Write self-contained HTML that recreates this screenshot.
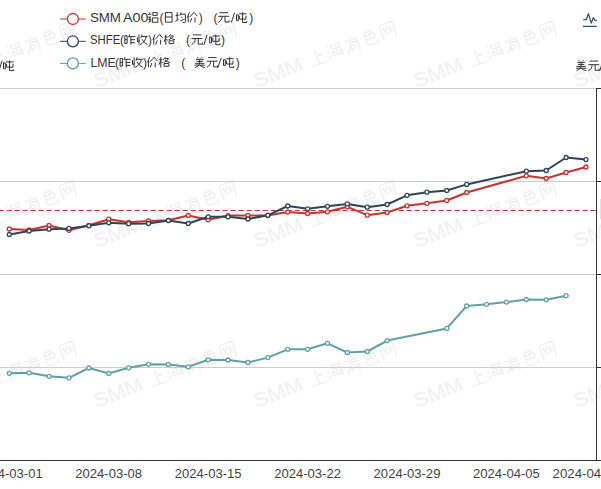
<!DOCTYPE html>
<html><head><meta charset="utf-8"><style>
html,body{margin:0;padding:0;background:#fff;overflow:hidden;}
svg{display:block;font-family:"Liberation Sans",sans-serif;}
</style></head><body>
<svg width="601" height="489" viewBox="0 0 601 489">
<g transform="translate(-63,-72) rotate(-21)"><text x="0" y="0" font-size="20" fill="#f0f0f0" textLength="51" lengthAdjust="spacingAndGlyphs">SMM</text><path d="M48 6V88 M48 44H84 M4 90H96" transform="translate(59,-15.5) scale(0.17)" fill="none" stroke="#efefef" stroke-width="8.24"/><path d="M8 8L18 16 M4 36L14 44 M4 90L18 62 M44 4L32 30 M40 18H94 M38 36H84L82 90 M38 36L34 76H98 M26 58H98 M58 42L64 50 M58 64L64 72" transform="translate(77.8,-15.5) scale(0.17)" fill="none" stroke="#efefef" stroke-width="8.24"/><path d="M10 26H94 M50 4Q40 60 6 96 M34 44V96 M34 44H84V88Q84 96 74 94 M34 60H84 M34 76H84" transform="translate(96.6,-15.5) scale(0.17)" fill="none" stroke="#efefef" stroke-width="8.24"/><path d="M36 4L14 34 M32 16H64L52 34 M22 34H80V58H22Z M50 34V58 M22 58V84Q22 94 36 94H90V80" transform="translate(115.39999999999999,-15.5) scale(0.17)" fill="none" stroke="#efefef" stroke-width="8.24"/><path d="M10 8V96 M10 8H90V86Q90 96 78 94 M24 28L46 72 M46 30L26 72 M54 28L76 72 M76 30L56 72" transform="translate(134.2,-15.5) scale(0.17)" fill="none" stroke="#efefef" stroke-width="8.24"/></g><g transform="translate(97,-72) rotate(-21)"><text x="0" y="0" font-size="20" fill="#f0f0f0" textLength="51" lengthAdjust="spacingAndGlyphs">SMM</text><path d="M48 6V88 M48 44H84 M4 90H96" transform="translate(59,-15.5) scale(0.17)" fill="none" stroke="#efefef" stroke-width="8.24"/><path d="M8 8L18 16 M4 36L14 44 M4 90L18 62 M44 4L32 30 M40 18H94 M38 36H84L82 90 M38 36L34 76H98 M26 58H98 M58 42L64 50 M58 64L64 72" transform="translate(77.8,-15.5) scale(0.17)" fill="none" stroke="#efefef" stroke-width="8.24"/><path d="M10 26H94 M50 4Q40 60 6 96 M34 44V96 M34 44H84V88Q84 96 74 94 M34 60H84 M34 76H84" transform="translate(96.6,-15.5) scale(0.17)" fill="none" stroke="#efefef" stroke-width="8.24"/><path d="M36 4L14 34 M32 16H64L52 34 M22 34H80V58H22Z M50 34V58 M22 58V84Q22 94 36 94H90V80" transform="translate(115.39999999999999,-15.5) scale(0.17)" fill="none" stroke="#efefef" stroke-width="8.24"/><path d="M10 8V96 M10 8H90V86Q90 96 78 94 M24 28L46 72 M46 30L26 72 M54 28L76 72 M76 30L56 72" transform="translate(134.2,-15.5) scale(0.17)" fill="none" stroke="#efefef" stroke-width="8.24"/></g><g transform="translate(257,-72) rotate(-21)"><text x="0" y="0" font-size="20" fill="#f0f0f0" textLength="51" lengthAdjust="spacingAndGlyphs">SMM</text><path d="M48 6V88 M48 44H84 M4 90H96" transform="translate(59,-15.5) scale(0.17)" fill="none" stroke="#efefef" stroke-width="8.24"/><path d="M8 8L18 16 M4 36L14 44 M4 90L18 62 M44 4L32 30 M40 18H94 M38 36H84L82 90 M38 36L34 76H98 M26 58H98 M58 42L64 50 M58 64L64 72" transform="translate(77.8,-15.5) scale(0.17)" fill="none" stroke="#efefef" stroke-width="8.24"/><path d="M10 26H94 M50 4Q40 60 6 96 M34 44V96 M34 44H84V88Q84 96 74 94 M34 60H84 M34 76H84" transform="translate(96.6,-15.5) scale(0.17)" fill="none" stroke="#efefef" stroke-width="8.24"/><path d="M36 4L14 34 M32 16H64L52 34 M22 34H80V58H22Z M50 34V58 M22 58V84Q22 94 36 94H90V80" transform="translate(115.39999999999999,-15.5) scale(0.17)" fill="none" stroke="#efefef" stroke-width="8.24"/><path d="M10 8V96 M10 8H90V86Q90 96 78 94 M24 28L46 72 M46 30L26 72 M54 28L76 72 M76 30L56 72" transform="translate(134.2,-15.5) scale(0.17)" fill="none" stroke="#efefef" stroke-width="8.24"/></g><g transform="translate(417,-72) rotate(-21)"><text x="0" y="0" font-size="20" fill="#f0f0f0" textLength="51" lengthAdjust="spacingAndGlyphs">SMM</text><path d="M48 6V88 M48 44H84 M4 90H96" transform="translate(59,-15.5) scale(0.17)" fill="none" stroke="#efefef" stroke-width="8.24"/><path d="M8 8L18 16 M4 36L14 44 M4 90L18 62 M44 4L32 30 M40 18H94 M38 36H84L82 90 M38 36L34 76H98 M26 58H98 M58 42L64 50 M58 64L64 72" transform="translate(77.8,-15.5) scale(0.17)" fill="none" stroke="#efefef" stroke-width="8.24"/><path d="M10 26H94 M50 4Q40 60 6 96 M34 44V96 M34 44H84V88Q84 96 74 94 M34 60H84 M34 76H84" transform="translate(96.6,-15.5) scale(0.17)" fill="none" stroke="#efefef" stroke-width="8.24"/><path d="M36 4L14 34 M32 16H64L52 34 M22 34H80V58H22Z M50 34V58 M22 58V84Q22 94 36 94H90V80" transform="translate(115.39999999999999,-15.5) scale(0.17)" fill="none" stroke="#efefef" stroke-width="8.24"/><path d="M10 8V96 M10 8H90V86Q90 96 78 94 M24 28L46 72 M46 30L26 72 M54 28L76 72 M76 30L56 72" transform="translate(134.2,-15.5) scale(0.17)" fill="none" stroke="#efefef" stroke-width="8.24"/></g><g transform="translate(577,-72) rotate(-21)"><text x="0" y="0" font-size="20" fill="#f0f0f0" textLength="51" lengthAdjust="spacingAndGlyphs">SMM</text><path d="M48 6V88 M48 44H84 M4 90H96" transform="translate(59,-15.5) scale(0.17)" fill="none" stroke="#efefef" stroke-width="8.24"/><path d="M8 8L18 16 M4 36L14 44 M4 90L18 62 M44 4L32 30 M40 18H94 M38 36H84L82 90 M38 36L34 76H98 M26 58H98 M58 42L64 50 M58 64L64 72" transform="translate(77.8,-15.5) scale(0.17)" fill="none" stroke="#efefef" stroke-width="8.24"/><path d="M10 26H94 M50 4Q40 60 6 96 M34 44V96 M34 44H84V88Q84 96 74 94 M34 60H84 M34 76H84" transform="translate(96.6,-15.5) scale(0.17)" fill="none" stroke="#efefef" stroke-width="8.24"/><path d="M36 4L14 34 M32 16H64L52 34 M22 34H80V58H22Z M50 34V58 M22 58V84Q22 94 36 94H90V80" transform="translate(115.39999999999999,-15.5) scale(0.17)" fill="none" stroke="#efefef" stroke-width="8.24"/><path d="M10 8V96 M10 8H90V86Q90 96 78 94 M24 28L46 72 M46 30L26 72 M54 28L76 72 M76 30L56 72" transform="translate(134.2,-15.5) scale(0.17)" fill="none" stroke="#efefef" stroke-width="8.24"/></g><g transform="translate(-63,88) rotate(-21)"><text x="0" y="0" font-size="20" fill="#f0f0f0" textLength="51" lengthAdjust="spacingAndGlyphs">SMM</text><path d="M48 6V88 M48 44H84 M4 90H96" transform="translate(59,-15.5) scale(0.17)" fill="none" stroke="#efefef" stroke-width="8.24"/><path d="M8 8L18 16 M4 36L14 44 M4 90L18 62 M44 4L32 30 M40 18H94 M38 36H84L82 90 M38 36L34 76H98 M26 58H98 M58 42L64 50 M58 64L64 72" transform="translate(77.8,-15.5) scale(0.17)" fill="none" stroke="#efefef" stroke-width="8.24"/><path d="M10 26H94 M50 4Q40 60 6 96 M34 44V96 M34 44H84V88Q84 96 74 94 M34 60H84 M34 76H84" transform="translate(96.6,-15.5) scale(0.17)" fill="none" stroke="#efefef" stroke-width="8.24"/><path d="M36 4L14 34 M32 16H64L52 34 M22 34H80V58H22Z M50 34V58 M22 58V84Q22 94 36 94H90V80" transform="translate(115.39999999999999,-15.5) scale(0.17)" fill="none" stroke="#efefef" stroke-width="8.24"/><path d="M10 8V96 M10 8H90V86Q90 96 78 94 M24 28L46 72 M46 30L26 72 M54 28L76 72 M76 30L56 72" transform="translate(134.2,-15.5) scale(0.17)" fill="none" stroke="#efefef" stroke-width="8.24"/></g><g transform="translate(97,88) rotate(-21)"><text x="0" y="0" font-size="20" fill="#f0f0f0" textLength="51" lengthAdjust="spacingAndGlyphs">SMM</text><path d="M48 6V88 M48 44H84 M4 90H96" transform="translate(59,-15.5) scale(0.17)" fill="none" stroke="#efefef" stroke-width="8.24"/><path d="M8 8L18 16 M4 36L14 44 M4 90L18 62 M44 4L32 30 M40 18H94 M38 36H84L82 90 M38 36L34 76H98 M26 58H98 M58 42L64 50 M58 64L64 72" transform="translate(77.8,-15.5) scale(0.17)" fill="none" stroke="#efefef" stroke-width="8.24"/><path d="M10 26H94 M50 4Q40 60 6 96 M34 44V96 M34 44H84V88Q84 96 74 94 M34 60H84 M34 76H84" transform="translate(96.6,-15.5) scale(0.17)" fill="none" stroke="#efefef" stroke-width="8.24"/><path d="M36 4L14 34 M32 16H64L52 34 M22 34H80V58H22Z M50 34V58 M22 58V84Q22 94 36 94H90V80" transform="translate(115.39999999999999,-15.5) scale(0.17)" fill="none" stroke="#efefef" stroke-width="8.24"/><path d="M10 8V96 M10 8H90V86Q90 96 78 94 M24 28L46 72 M46 30L26 72 M54 28L76 72 M76 30L56 72" transform="translate(134.2,-15.5) scale(0.17)" fill="none" stroke="#efefef" stroke-width="8.24"/></g><g transform="translate(257,88) rotate(-21)"><text x="0" y="0" font-size="20" fill="#f0f0f0" textLength="51" lengthAdjust="spacingAndGlyphs">SMM</text><path d="M48 6V88 M48 44H84 M4 90H96" transform="translate(59,-15.5) scale(0.17)" fill="none" stroke="#efefef" stroke-width="8.24"/><path d="M8 8L18 16 M4 36L14 44 M4 90L18 62 M44 4L32 30 M40 18H94 M38 36H84L82 90 M38 36L34 76H98 M26 58H98 M58 42L64 50 M58 64L64 72" transform="translate(77.8,-15.5) scale(0.17)" fill="none" stroke="#efefef" stroke-width="8.24"/><path d="M10 26H94 M50 4Q40 60 6 96 M34 44V96 M34 44H84V88Q84 96 74 94 M34 60H84 M34 76H84" transform="translate(96.6,-15.5) scale(0.17)" fill="none" stroke="#efefef" stroke-width="8.24"/><path d="M36 4L14 34 M32 16H64L52 34 M22 34H80V58H22Z M50 34V58 M22 58V84Q22 94 36 94H90V80" transform="translate(115.39999999999999,-15.5) scale(0.17)" fill="none" stroke="#efefef" stroke-width="8.24"/><path d="M10 8V96 M10 8H90V86Q90 96 78 94 M24 28L46 72 M46 30L26 72 M54 28L76 72 M76 30L56 72" transform="translate(134.2,-15.5) scale(0.17)" fill="none" stroke="#efefef" stroke-width="8.24"/></g><g transform="translate(417,88) rotate(-21)"><text x="0" y="0" font-size="20" fill="#f0f0f0" textLength="51" lengthAdjust="spacingAndGlyphs">SMM</text><path d="M48 6V88 M48 44H84 M4 90H96" transform="translate(59,-15.5) scale(0.17)" fill="none" stroke="#efefef" stroke-width="8.24"/><path d="M8 8L18 16 M4 36L14 44 M4 90L18 62 M44 4L32 30 M40 18H94 M38 36H84L82 90 M38 36L34 76H98 M26 58H98 M58 42L64 50 M58 64L64 72" transform="translate(77.8,-15.5) scale(0.17)" fill="none" stroke="#efefef" stroke-width="8.24"/><path d="M10 26H94 M50 4Q40 60 6 96 M34 44V96 M34 44H84V88Q84 96 74 94 M34 60H84 M34 76H84" transform="translate(96.6,-15.5) scale(0.17)" fill="none" stroke="#efefef" stroke-width="8.24"/><path d="M36 4L14 34 M32 16H64L52 34 M22 34H80V58H22Z M50 34V58 M22 58V84Q22 94 36 94H90V80" transform="translate(115.39999999999999,-15.5) scale(0.17)" fill="none" stroke="#efefef" stroke-width="8.24"/><path d="M10 8V96 M10 8H90V86Q90 96 78 94 M24 28L46 72 M46 30L26 72 M54 28L76 72 M76 30L56 72" transform="translate(134.2,-15.5) scale(0.17)" fill="none" stroke="#efefef" stroke-width="8.24"/></g><g transform="translate(577,88) rotate(-21)"><text x="0" y="0" font-size="20" fill="#f0f0f0" textLength="51" lengthAdjust="spacingAndGlyphs">SMM</text><path d="M48 6V88 M48 44H84 M4 90H96" transform="translate(59,-15.5) scale(0.17)" fill="none" stroke="#efefef" stroke-width="8.24"/><path d="M8 8L18 16 M4 36L14 44 M4 90L18 62 M44 4L32 30 M40 18H94 M38 36H84L82 90 M38 36L34 76H98 M26 58H98 M58 42L64 50 M58 64L64 72" transform="translate(77.8,-15.5) scale(0.17)" fill="none" stroke="#efefef" stroke-width="8.24"/><path d="M10 26H94 M50 4Q40 60 6 96 M34 44V96 M34 44H84V88Q84 96 74 94 M34 60H84 M34 76H84" transform="translate(96.6,-15.5) scale(0.17)" fill="none" stroke="#efefef" stroke-width="8.24"/><path d="M36 4L14 34 M32 16H64L52 34 M22 34H80V58H22Z M50 34V58 M22 58V84Q22 94 36 94H90V80" transform="translate(115.39999999999999,-15.5) scale(0.17)" fill="none" stroke="#efefef" stroke-width="8.24"/><path d="M10 8V96 M10 8H90V86Q90 96 78 94 M24 28L46 72 M46 30L26 72 M54 28L76 72 M76 30L56 72" transform="translate(134.2,-15.5) scale(0.17)" fill="none" stroke="#efefef" stroke-width="8.24"/></g><g transform="translate(-63,248) rotate(-21)"><text x="0" y="0" font-size="20" fill="#f0f0f0" textLength="51" lengthAdjust="spacingAndGlyphs">SMM</text><path d="M48 6V88 M48 44H84 M4 90H96" transform="translate(59,-15.5) scale(0.17)" fill="none" stroke="#efefef" stroke-width="8.24"/><path d="M8 8L18 16 M4 36L14 44 M4 90L18 62 M44 4L32 30 M40 18H94 M38 36H84L82 90 M38 36L34 76H98 M26 58H98 M58 42L64 50 M58 64L64 72" transform="translate(77.8,-15.5) scale(0.17)" fill="none" stroke="#efefef" stroke-width="8.24"/><path d="M10 26H94 M50 4Q40 60 6 96 M34 44V96 M34 44H84V88Q84 96 74 94 M34 60H84 M34 76H84" transform="translate(96.6,-15.5) scale(0.17)" fill="none" stroke="#efefef" stroke-width="8.24"/><path d="M36 4L14 34 M32 16H64L52 34 M22 34H80V58H22Z M50 34V58 M22 58V84Q22 94 36 94H90V80" transform="translate(115.39999999999999,-15.5) scale(0.17)" fill="none" stroke="#efefef" stroke-width="8.24"/><path d="M10 8V96 M10 8H90V86Q90 96 78 94 M24 28L46 72 M46 30L26 72 M54 28L76 72 M76 30L56 72" transform="translate(134.2,-15.5) scale(0.17)" fill="none" stroke="#efefef" stroke-width="8.24"/></g><g transform="translate(97,248) rotate(-21)"><text x="0" y="0" font-size="20" fill="#f0f0f0" textLength="51" lengthAdjust="spacingAndGlyphs">SMM</text><path d="M48 6V88 M48 44H84 M4 90H96" transform="translate(59,-15.5) scale(0.17)" fill="none" stroke="#efefef" stroke-width="8.24"/><path d="M8 8L18 16 M4 36L14 44 M4 90L18 62 M44 4L32 30 M40 18H94 M38 36H84L82 90 M38 36L34 76H98 M26 58H98 M58 42L64 50 M58 64L64 72" transform="translate(77.8,-15.5) scale(0.17)" fill="none" stroke="#efefef" stroke-width="8.24"/><path d="M10 26H94 M50 4Q40 60 6 96 M34 44V96 M34 44H84V88Q84 96 74 94 M34 60H84 M34 76H84" transform="translate(96.6,-15.5) scale(0.17)" fill="none" stroke="#efefef" stroke-width="8.24"/><path d="M36 4L14 34 M32 16H64L52 34 M22 34H80V58H22Z M50 34V58 M22 58V84Q22 94 36 94H90V80" transform="translate(115.39999999999999,-15.5) scale(0.17)" fill="none" stroke="#efefef" stroke-width="8.24"/><path d="M10 8V96 M10 8H90V86Q90 96 78 94 M24 28L46 72 M46 30L26 72 M54 28L76 72 M76 30L56 72" transform="translate(134.2,-15.5) scale(0.17)" fill="none" stroke="#efefef" stroke-width="8.24"/></g><g transform="translate(257,248) rotate(-21)"><text x="0" y="0" font-size="20" fill="#f0f0f0" textLength="51" lengthAdjust="spacingAndGlyphs">SMM</text><path d="M48 6V88 M48 44H84 M4 90H96" transform="translate(59,-15.5) scale(0.17)" fill="none" stroke="#efefef" stroke-width="8.24"/><path d="M8 8L18 16 M4 36L14 44 M4 90L18 62 M44 4L32 30 M40 18H94 M38 36H84L82 90 M38 36L34 76H98 M26 58H98 M58 42L64 50 M58 64L64 72" transform="translate(77.8,-15.5) scale(0.17)" fill="none" stroke="#efefef" stroke-width="8.24"/><path d="M10 26H94 M50 4Q40 60 6 96 M34 44V96 M34 44H84V88Q84 96 74 94 M34 60H84 M34 76H84" transform="translate(96.6,-15.5) scale(0.17)" fill="none" stroke="#efefef" stroke-width="8.24"/><path d="M36 4L14 34 M32 16H64L52 34 M22 34H80V58H22Z M50 34V58 M22 58V84Q22 94 36 94H90V80" transform="translate(115.39999999999999,-15.5) scale(0.17)" fill="none" stroke="#efefef" stroke-width="8.24"/><path d="M10 8V96 M10 8H90V86Q90 96 78 94 M24 28L46 72 M46 30L26 72 M54 28L76 72 M76 30L56 72" transform="translate(134.2,-15.5) scale(0.17)" fill="none" stroke="#efefef" stroke-width="8.24"/></g><g transform="translate(417,248) rotate(-21)"><text x="0" y="0" font-size="20" fill="#f0f0f0" textLength="51" lengthAdjust="spacingAndGlyphs">SMM</text><path d="M48 6V88 M48 44H84 M4 90H96" transform="translate(59,-15.5) scale(0.17)" fill="none" stroke="#efefef" stroke-width="8.24"/><path d="M8 8L18 16 M4 36L14 44 M4 90L18 62 M44 4L32 30 M40 18H94 M38 36H84L82 90 M38 36L34 76H98 M26 58H98 M58 42L64 50 M58 64L64 72" transform="translate(77.8,-15.5) scale(0.17)" fill="none" stroke="#efefef" stroke-width="8.24"/><path d="M10 26H94 M50 4Q40 60 6 96 M34 44V96 M34 44H84V88Q84 96 74 94 M34 60H84 M34 76H84" transform="translate(96.6,-15.5) scale(0.17)" fill="none" stroke="#efefef" stroke-width="8.24"/><path d="M36 4L14 34 M32 16H64L52 34 M22 34H80V58H22Z M50 34V58 M22 58V84Q22 94 36 94H90V80" transform="translate(115.39999999999999,-15.5) scale(0.17)" fill="none" stroke="#efefef" stroke-width="8.24"/><path d="M10 8V96 M10 8H90V86Q90 96 78 94 M24 28L46 72 M46 30L26 72 M54 28L76 72 M76 30L56 72" transform="translate(134.2,-15.5) scale(0.17)" fill="none" stroke="#efefef" stroke-width="8.24"/></g><g transform="translate(577,248) rotate(-21)"><text x="0" y="0" font-size="20" fill="#f0f0f0" textLength="51" lengthAdjust="spacingAndGlyphs">SMM</text><path d="M48 6V88 M48 44H84 M4 90H96" transform="translate(59,-15.5) scale(0.17)" fill="none" stroke="#efefef" stroke-width="8.24"/><path d="M8 8L18 16 M4 36L14 44 M4 90L18 62 M44 4L32 30 M40 18H94 M38 36H84L82 90 M38 36L34 76H98 M26 58H98 M58 42L64 50 M58 64L64 72" transform="translate(77.8,-15.5) scale(0.17)" fill="none" stroke="#efefef" stroke-width="8.24"/><path d="M10 26H94 M50 4Q40 60 6 96 M34 44V96 M34 44H84V88Q84 96 74 94 M34 60H84 M34 76H84" transform="translate(96.6,-15.5) scale(0.17)" fill="none" stroke="#efefef" stroke-width="8.24"/><path d="M36 4L14 34 M32 16H64L52 34 M22 34H80V58H22Z M50 34V58 M22 58V84Q22 94 36 94H90V80" transform="translate(115.39999999999999,-15.5) scale(0.17)" fill="none" stroke="#efefef" stroke-width="8.24"/><path d="M10 8V96 M10 8H90V86Q90 96 78 94 M24 28L46 72 M46 30L26 72 M54 28L76 72 M76 30L56 72" transform="translate(134.2,-15.5) scale(0.17)" fill="none" stroke="#efefef" stroke-width="8.24"/></g><g transform="translate(-63,408) rotate(-21)"><text x="0" y="0" font-size="20" fill="#f0f0f0" textLength="51" lengthAdjust="spacingAndGlyphs">SMM</text><path d="M48 6V88 M48 44H84 M4 90H96" transform="translate(59,-15.5) scale(0.17)" fill="none" stroke="#efefef" stroke-width="8.24"/><path d="M8 8L18 16 M4 36L14 44 M4 90L18 62 M44 4L32 30 M40 18H94 M38 36H84L82 90 M38 36L34 76H98 M26 58H98 M58 42L64 50 M58 64L64 72" transform="translate(77.8,-15.5) scale(0.17)" fill="none" stroke="#efefef" stroke-width="8.24"/><path d="M10 26H94 M50 4Q40 60 6 96 M34 44V96 M34 44H84V88Q84 96 74 94 M34 60H84 M34 76H84" transform="translate(96.6,-15.5) scale(0.17)" fill="none" stroke="#efefef" stroke-width="8.24"/><path d="M36 4L14 34 M32 16H64L52 34 M22 34H80V58H22Z M50 34V58 M22 58V84Q22 94 36 94H90V80" transform="translate(115.39999999999999,-15.5) scale(0.17)" fill="none" stroke="#efefef" stroke-width="8.24"/><path d="M10 8V96 M10 8H90V86Q90 96 78 94 M24 28L46 72 M46 30L26 72 M54 28L76 72 M76 30L56 72" transform="translate(134.2,-15.5) scale(0.17)" fill="none" stroke="#efefef" stroke-width="8.24"/></g><g transform="translate(97,408) rotate(-21)"><text x="0" y="0" font-size="20" fill="#f0f0f0" textLength="51" lengthAdjust="spacingAndGlyphs">SMM</text><path d="M48 6V88 M48 44H84 M4 90H96" transform="translate(59,-15.5) scale(0.17)" fill="none" stroke="#efefef" stroke-width="8.24"/><path d="M8 8L18 16 M4 36L14 44 M4 90L18 62 M44 4L32 30 M40 18H94 M38 36H84L82 90 M38 36L34 76H98 M26 58H98 M58 42L64 50 M58 64L64 72" transform="translate(77.8,-15.5) scale(0.17)" fill="none" stroke="#efefef" stroke-width="8.24"/><path d="M10 26H94 M50 4Q40 60 6 96 M34 44V96 M34 44H84V88Q84 96 74 94 M34 60H84 M34 76H84" transform="translate(96.6,-15.5) scale(0.17)" fill="none" stroke="#efefef" stroke-width="8.24"/><path d="M36 4L14 34 M32 16H64L52 34 M22 34H80V58H22Z M50 34V58 M22 58V84Q22 94 36 94H90V80" transform="translate(115.39999999999999,-15.5) scale(0.17)" fill="none" stroke="#efefef" stroke-width="8.24"/><path d="M10 8V96 M10 8H90V86Q90 96 78 94 M24 28L46 72 M46 30L26 72 M54 28L76 72 M76 30L56 72" transform="translate(134.2,-15.5) scale(0.17)" fill="none" stroke="#efefef" stroke-width="8.24"/></g><g transform="translate(257,408) rotate(-21)"><text x="0" y="0" font-size="20" fill="#f0f0f0" textLength="51" lengthAdjust="spacingAndGlyphs">SMM</text><path d="M48 6V88 M48 44H84 M4 90H96" transform="translate(59,-15.5) scale(0.17)" fill="none" stroke="#efefef" stroke-width="8.24"/><path d="M8 8L18 16 M4 36L14 44 M4 90L18 62 M44 4L32 30 M40 18H94 M38 36H84L82 90 M38 36L34 76H98 M26 58H98 M58 42L64 50 M58 64L64 72" transform="translate(77.8,-15.5) scale(0.17)" fill="none" stroke="#efefef" stroke-width="8.24"/><path d="M10 26H94 M50 4Q40 60 6 96 M34 44V96 M34 44H84V88Q84 96 74 94 M34 60H84 M34 76H84" transform="translate(96.6,-15.5) scale(0.17)" fill="none" stroke="#efefef" stroke-width="8.24"/><path d="M36 4L14 34 M32 16H64L52 34 M22 34H80V58H22Z M50 34V58 M22 58V84Q22 94 36 94H90V80" transform="translate(115.39999999999999,-15.5) scale(0.17)" fill="none" stroke="#efefef" stroke-width="8.24"/><path d="M10 8V96 M10 8H90V86Q90 96 78 94 M24 28L46 72 M46 30L26 72 M54 28L76 72 M76 30L56 72" transform="translate(134.2,-15.5) scale(0.17)" fill="none" stroke="#efefef" stroke-width="8.24"/></g><g transform="translate(417,408) rotate(-21)"><text x="0" y="0" font-size="20" fill="#f0f0f0" textLength="51" lengthAdjust="spacingAndGlyphs">SMM</text><path d="M48 6V88 M48 44H84 M4 90H96" transform="translate(59,-15.5) scale(0.17)" fill="none" stroke="#efefef" stroke-width="8.24"/><path d="M8 8L18 16 M4 36L14 44 M4 90L18 62 M44 4L32 30 M40 18H94 M38 36H84L82 90 M38 36L34 76H98 M26 58H98 M58 42L64 50 M58 64L64 72" transform="translate(77.8,-15.5) scale(0.17)" fill="none" stroke="#efefef" stroke-width="8.24"/><path d="M10 26H94 M50 4Q40 60 6 96 M34 44V96 M34 44H84V88Q84 96 74 94 M34 60H84 M34 76H84" transform="translate(96.6,-15.5) scale(0.17)" fill="none" stroke="#efefef" stroke-width="8.24"/><path d="M36 4L14 34 M32 16H64L52 34 M22 34H80V58H22Z M50 34V58 M22 58V84Q22 94 36 94H90V80" transform="translate(115.39999999999999,-15.5) scale(0.17)" fill="none" stroke="#efefef" stroke-width="8.24"/><path d="M10 8V96 M10 8H90V86Q90 96 78 94 M24 28L46 72 M46 30L26 72 M54 28L76 72 M76 30L56 72" transform="translate(134.2,-15.5) scale(0.17)" fill="none" stroke="#efefef" stroke-width="8.24"/></g><g transform="translate(577,408) rotate(-21)"><text x="0" y="0" font-size="20" fill="#f0f0f0" textLength="51" lengthAdjust="spacingAndGlyphs">SMM</text><path d="M48 6V88 M48 44H84 M4 90H96" transform="translate(59,-15.5) scale(0.17)" fill="none" stroke="#efefef" stroke-width="8.24"/><path d="M8 8L18 16 M4 36L14 44 M4 90L18 62 M44 4L32 30 M40 18H94 M38 36H84L82 90 M38 36L34 76H98 M26 58H98 M58 42L64 50 M58 64L64 72" transform="translate(77.8,-15.5) scale(0.17)" fill="none" stroke="#efefef" stroke-width="8.24"/><path d="M10 26H94 M50 4Q40 60 6 96 M34 44V96 M34 44H84V88Q84 96 74 94 M34 60H84 M34 76H84" transform="translate(96.6,-15.5) scale(0.17)" fill="none" stroke="#efefef" stroke-width="8.24"/><path d="M36 4L14 34 M32 16H64L52 34 M22 34H80V58H22Z M50 34V58 M22 58V84Q22 94 36 94H90V80" transform="translate(115.39999999999999,-15.5) scale(0.17)" fill="none" stroke="#efefef" stroke-width="8.24"/><path d="M10 8V96 M10 8H90V86Q90 96 78 94 M24 28L46 72 M46 30L26 72 M54 28L76 72 M76 30L56 72" transform="translate(134.2,-15.5) scale(0.17)" fill="none" stroke="#efefef" stroke-width="8.24"/></g>
<rect x="0" y="88" width="596" height="1" fill="#ccc"/>
<rect x="0" y="181" width="596" height="1" fill="#ccc"/>
<rect x="0" y="274" width="596" height="1" fill="#ccc"/>
<rect x="0" y="367" width="596" height="1" fill="#ccc"/>
<line x1="-1.3" y1="210.5" x2="596" y2="210.5" stroke="#c23531" stroke-width="1" stroke-dasharray="5 3"/>
<rect x="0" y="460" width="597" height="1" fill="#333"/>
<rect x="596" y="88" width="1" height="373" fill="#333"/>
<rect x="596" y="88" width="6" height="1" fill="#333"/>
<rect x="596" y="181" width="6" height="1" fill="#333"/>
<rect x="596" y="274" width="6" height="1" fill="#333"/>
<rect x="596" y="367" width="6" height="1" fill="#333"/>
<rect x="596" y="460" width="6" height="1" fill="#333"/>
<rect x="600" y="199" width="1" height="20" fill="#e2e2e2"/>
<path d="M9.30 229.00 L29.19 230.00 L49.07 225.50 L68.96 230.30 L88.84 225.30 L108.73 219.20 L128.62 222.30 L148.50 221.00 L168.39 220.30 L188.27 215.50 L208.16 219.80 L228.05 215.60 L247.93 215.50 L267.82 215.50 L287.70 212.00 L307.59 213.50 L327.48 211.80 L347.36 206.80 L367.25 215.20 L387.13 212.50 L407.02 205.80 L426.91 203.30 L446.79 200.50 L466.68 192.50 L526.34 175.80 L546.22 178.50 L566.11 172.50 L585.99 167.00" fill="none" stroke="#c23531" stroke-width="2.0" stroke-linejoin="round"/><circle cx="9.30" cy="229.00" r="2.0" fill="#fff" stroke="#c23531" stroke-width="1.3"/><circle cx="29.19" cy="230.00" r="2.0" fill="#fff" stroke="#c23531" stroke-width="1.3"/><circle cx="49.07" cy="225.50" r="2.0" fill="#fff" stroke="#c23531" stroke-width="1.3"/><circle cx="68.96" cy="230.30" r="2.0" fill="#fff" stroke="#c23531" stroke-width="1.3"/><circle cx="88.84" cy="225.30" r="2.0" fill="#fff" stroke="#c23531" stroke-width="1.3"/><circle cx="108.73" cy="219.20" r="2.0" fill="#fff" stroke="#c23531" stroke-width="1.3"/><circle cx="128.62" cy="222.30" r="2.0" fill="#fff" stroke="#c23531" stroke-width="1.3"/><circle cx="148.50" cy="221.00" r="2.0" fill="#fff" stroke="#c23531" stroke-width="1.3"/><circle cx="168.39" cy="220.30" r="2.0" fill="#fff" stroke="#c23531" stroke-width="1.3"/><circle cx="188.27" cy="215.50" r="2.0" fill="#fff" stroke="#c23531" stroke-width="1.3"/><circle cx="208.16" cy="219.80" r="2.0" fill="#fff" stroke="#c23531" stroke-width="1.3"/><circle cx="228.05" cy="215.60" r="2.0" fill="#fff" stroke="#c23531" stroke-width="1.3"/><circle cx="247.93" cy="215.50" r="2.0" fill="#fff" stroke="#c23531" stroke-width="1.3"/><circle cx="267.82" cy="215.50" r="2.0" fill="#fff" stroke="#c23531" stroke-width="1.3"/><circle cx="287.70" cy="212.00" r="2.0" fill="#fff" stroke="#c23531" stroke-width="1.3"/><circle cx="307.59" cy="213.50" r="2.0" fill="#fff" stroke="#c23531" stroke-width="1.3"/><circle cx="327.48" cy="211.80" r="2.0" fill="#fff" stroke="#c23531" stroke-width="1.3"/><circle cx="347.36" cy="206.80" r="2.0" fill="#fff" stroke="#c23531" stroke-width="1.3"/><circle cx="367.25" cy="215.20" r="2.0" fill="#fff" stroke="#c23531" stroke-width="1.3"/><circle cx="387.13" cy="212.50" r="2.0" fill="#fff" stroke="#c23531" stroke-width="1.3"/><circle cx="407.02" cy="205.80" r="2.0" fill="#fff" stroke="#c23531" stroke-width="1.3"/><circle cx="426.91" cy="203.30" r="2.0" fill="#fff" stroke="#c23531" stroke-width="1.3"/><circle cx="446.79" cy="200.50" r="2.0" fill="#fff" stroke="#c23531" stroke-width="1.3"/><circle cx="466.68" cy="192.50" r="2.0" fill="#fff" stroke="#c23531" stroke-width="1.3"/><circle cx="526.34" cy="175.80" r="2.0" fill="#fff" stroke="#c23531" stroke-width="1.3"/><circle cx="546.22" cy="178.50" r="2.0" fill="#fff" stroke="#c23531" stroke-width="1.3"/><circle cx="566.11" cy="172.50" r="2.0" fill="#fff" stroke="#c23531" stroke-width="1.3"/><circle cx="585.99" cy="167.00" r="2.0" fill="#fff" stroke="#c23531" stroke-width="1.3"/>
<path d="M9.30 234.50 L29.19 231.00 L49.07 229.20 L68.96 228.40 L88.84 225.80 L108.73 222.80 L128.62 223.70 L148.50 223.50 L168.39 220.50 L188.27 223.50 L208.16 216.80 L228.05 216.80 L247.93 219.00 L267.82 215.30 L287.70 206.00 L307.59 208.80 L327.48 206.30 L347.36 203.90 L367.25 207.20 L387.13 204.50 L407.02 195.30 L426.91 192.20 L446.79 190.50 L466.68 184.40 L526.34 171.20 L546.22 170.50 L566.11 157.50 L585.99 159.60" fill="none" stroke="#2f4554" stroke-width="2.0" stroke-linejoin="round"/><circle cx="9.30" cy="234.50" r="2.0" fill="#fff" stroke="#2f4554" stroke-width="1.3"/><circle cx="29.19" cy="231.00" r="2.0" fill="#fff" stroke="#2f4554" stroke-width="1.3"/><circle cx="49.07" cy="229.20" r="2.0" fill="#fff" stroke="#2f4554" stroke-width="1.3"/><circle cx="68.96" cy="228.40" r="2.0" fill="#fff" stroke="#2f4554" stroke-width="1.3"/><circle cx="88.84" cy="225.80" r="2.0" fill="#fff" stroke="#2f4554" stroke-width="1.3"/><circle cx="108.73" cy="222.80" r="2.0" fill="#fff" stroke="#2f4554" stroke-width="1.3"/><circle cx="128.62" cy="223.70" r="2.0" fill="#fff" stroke="#2f4554" stroke-width="1.3"/><circle cx="148.50" cy="223.50" r="2.0" fill="#fff" stroke="#2f4554" stroke-width="1.3"/><circle cx="168.39" cy="220.50" r="2.0" fill="#fff" stroke="#2f4554" stroke-width="1.3"/><circle cx="188.27" cy="223.50" r="2.0" fill="#fff" stroke="#2f4554" stroke-width="1.3"/><circle cx="208.16" cy="216.80" r="2.0" fill="#fff" stroke="#2f4554" stroke-width="1.3"/><circle cx="228.05" cy="216.80" r="2.0" fill="#fff" stroke="#2f4554" stroke-width="1.3"/><circle cx="247.93" cy="219.00" r="2.0" fill="#fff" stroke="#2f4554" stroke-width="1.3"/><circle cx="267.82" cy="215.30" r="2.0" fill="#fff" stroke="#2f4554" stroke-width="1.3"/><circle cx="287.70" cy="206.00" r="2.0" fill="#fff" stroke="#2f4554" stroke-width="1.3"/><circle cx="307.59" cy="208.80" r="2.0" fill="#fff" stroke="#2f4554" stroke-width="1.3"/><circle cx="327.48" cy="206.30" r="2.0" fill="#fff" stroke="#2f4554" stroke-width="1.3"/><circle cx="347.36" cy="203.90" r="2.0" fill="#fff" stroke="#2f4554" stroke-width="1.3"/><circle cx="367.25" cy="207.20" r="2.0" fill="#fff" stroke="#2f4554" stroke-width="1.3"/><circle cx="387.13" cy="204.50" r="2.0" fill="#fff" stroke="#2f4554" stroke-width="1.3"/><circle cx="407.02" cy="195.30" r="2.0" fill="#fff" stroke="#2f4554" stroke-width="1.3"/><circle cx="426.91" cy="192.20" r="2.0" fill="#fff" stroke="#2f4554" stroke-width="1.3"/><circle cx="446.79" cy="190.50" r="2.0" fill="#fff" stroke="#2f4554" stroke-width="1.3"/><circle cx="466.68" cy="184.40" r="2.0" fill="#fff" stroke="#2f4554" stroke-width="1.3"/><circle cx="526.34" cy="171.20" r="2.0" fill="#fff" stroke="#2f4554" stroke-width="1.3"/><circle cx="546.22" cy="170.50" r="2.0" fill="#fff" stroke="#2f4554" stroke-width="1.3"/><circle cx="566.11" cy="157.50" r="2.0" fill="#fff" stroke="#2f4554" stroke-width="1.3"/><circle cx="585.99" cy="159.60" r="2.0" fill="#fff" stroke="#2f4554" stroke-width="1.3"/>
<path d="M9.30 373.30 L29.19 372.80 L49.07 376.30 L68.96 377.80 L88.84 368.00 L108.73 373.50 L128.62 367.80 L148.50 364.30 L168.39 364.40 L188.27 366.80 L208.16 359.80 L228.05 360.00 L247.93 362.50 L267.82 357.60 L287.70 349.30 L307.59 349.30 L327.48 343.30 L347.36 352.50 L367.25 351.50 L387.13 340.60 L446.79 328.40 L466.68 306.00 L486.56 304.30 L506.45 302.10 L526.34 299.50 L546.22 299.80 L566.11 295.70" fill="none" stroke="#61a0a8" stroke-width="2.0" stroke-linejoin="round"/><circle cx="9.30" cy="373.30" r="2.0" fill="#fff" stroke="#61a0a8" stroke-width="1.3"/><circle cx="29.19" cy="372.80" r="2.0" fill="#fff" stroke="#61a0a8" stroke-width="1.3"/><circle cx="49.07" cy="376.30" r="2.0" fill="#fff" stroke="#61a0a8" stroke-width="1.3"/><circle cx="68.96" cy="377.80" r="2.0" fill="#fff" stroke="#61a0a8" stroke-width="1.3"/><circle cx="88.84" cy="368.00" r="2.0" fill="#fff" stroke="#61a0a8" stroke-width="1.3"/><circle cx="108.73" cy="373.50" r="2.0" fill="#fff" stroke="#61a0a8" stroke-width="1.3"/><circle cx="128.62" cy="367.80" r="2.0" fill="#fff" stroke="#61a0a8" stroke-width="1.3"/><circle cx="148.50" cy="364.30" r="2.0" fill="#fff" stroke="#61a0a8" stroke-width="1.3"/><circle cx="168.39" cy="364.40" r="2.0" fill="#fff" stroke="#61a0a8" stroke-width="1.3"/><circle cx="188.27" cy="366.80" r="2.0" fill="#fff" stroke="#61a0a8" stroke-width="1.3"/><circle cx="208.16" cy="359.80" r="2.0" fill="#fff" stroke="#61a0a8" stroke-width="1.3"/><circle cx="228.05" cy="360.00" r="2.0" fill="#fff" stroke="#61a0a8" stroke-width="1.3"/><circle cx="247.93" cy="362.50" r="2.0" fill="#fff" stroke="#61a0a8" stroke-width="1.3"/><circle cx="267.82" cy="357.60" r="2.0" fill="#fff" stroke="#61a0a8" stroke-width="1.3"/><circle cx="287.70" cy="349.30" r="2.0" fill="#fff" stroke="#61a0a8" stroke-width="1.3"/><circle cx="307.59" cy="349.30" r="2.0" fill="#fff" stroke="#61a0a8" stroke-width="1.3"/><circle cx="327.48" cy="343.30" r="2.0" fill="#fff" stroke="#61a0a8" stroke-width="1.3"/><circle cx="347.36" cy="352.50" r="2.0" fill="#fff" stroke="#61a0a8" stroke-width="1.3"/><circle cx="367.25" cy="351.50" r="2.0" fill="#fff" stroke="#61a0a8" stroke-width="1.3"/><circle cx="387.13" cy="340.60" r="2.0" fill="#fff" stroke="#61a0a8" stroke-width="1.3"/><circle cx="446.79" cy="328.40" r="2.0" fill="#fff" stroke="#61a0a8" stroke-width="1.3"/><circle cx="466.68" cy="306.00" r="2.0" fill="#fff" stroke="#61a0a8" stroke-width="1.3"/><circle cx="486.56" cy="304.30" r="2.0" fill="#fff" stroke="#61a0a8" stroke-width="1.3"/><circle cx="506.45" cy="302.10" r="2.0" fill="#fff" stroke="#61a0a8" stroke-width="1.3"/><circle cx="526.34" cy="299.50" r="2.0" fill="#fff" stroke="#61a0a8" stroke-width="1.3"/><circle cx="546.22" cy="299.80" r="2.0" fill="#fff" stroke="#61a0a8" stroke-width="1.3"/><circle cx="566.11" cy="295.70" r="2.0" fill="#fff" stroke="#61a0a8" stroke-width="1.3"/>
<text x="9.30" y="477.8" font-size="12.5" fill="#444" textLength="66.8" lengthAdjust="spacingAndGlyphs" text-anchor="middle">2024-03-01</text>
<text x="108.73" y="477.8" font-size="12.5" fill="#444" textLength="66.8" lengthAdjust="spacingAndGlyphs" text-anchor="middle">2024-03-08</text>
<text x="208.16" y="477.8" font-size="12.5" fill="#444" textLength="66.8" lengthAdjust="spacingAndGlyphs" text-anchor="middle">2024-03-15</text>
<text x="307.59" y="477.8" font-size="12.5" fill="#444" textLength="66.8" lengthAdjust="spacingAndGlyphs" text-anchor="middle">2024-03-22</text>
<text x="407.02" y="477.8" font-size="12.5" fill="#444" textLength="66.8" lengthAdjust="spacingAndGlyphs" text-anchor="middle">2024-03-29</text>
<text x="506.45" y="477.8" font-size="12.5" fill="#444" textLength="66.8" lengthAdjust="spacingAndGlyphs" text-anchor="middle">2024-04-05</text>
<text x="585.99" y="477.8" font-size="12.5" fill="#444" textLength="66.8" lengthAdjust="spacingAndGlyphs" text-anchor="middle">2024-04-11</text>
<line x1="60" y1="19" x2="85.8" y2="19" stroke="#c23531" stroke-width="1"/><circle cx="72.9" cy="19" r="5.5" fill="#fff" stroke="#c23531" stroke-width="1.3"/>
<line x1="60" y1="41.3" x2="85.8" y2="41.3" stroke="#2f4554" stroke-width="1"/><circle cx="72.9" cy="41.3" r="5.5" fill="#fff" stroke="#2f4554" stroke-width="1.3"/>
<line x1="60" y1="63.4" x2="85.8" y2="63.4" stroke="#61a0a8" stroke-width="1"/><circle cx="72.9" cy="63.4" r="5.5" fill="#fff" stroke="#61a0a8" stroke-width="1.3"/>
<text x="89.9" y="21.7" font-size="12" fill="#333" textLength="31" lengthAdjust="spacingAndGlyphs">SMM</text>
<text x="123.0" y="21.7" font-size="12" fill="#333" textLength="25.3" lengthAdjust="spacingAndGlyphs">A00</text>
<path d="M2.2 0.2L0.5 2.8 M1.2 2.2H3.4 M0.5 5H3.2 M0.5 7.3H3.2 M1.9 5V10 M0.5 10.3L3.4 8.6 M4.9 0.5H9.3V3.3H4.9Z M4.5 5.8H10V10.2H4.5Z" transform="translate(147.90,12.10)" fill="none" stroke="#333" stroke-width="1.0"/>
<text x="159.4" y="21.7" font-size="12" fill="#333">(</text>
<path d="M0.5 0.5H7.2V10H0.5Z M0.5 4.9H7.2" transform="translate(164.90,12.10)" fill="none" stroke="#333" stroke-width="1.0"/>
<path d="M0.3 3.2H3.5 M2 0.2V7.8 M0.2 9.3L3.5 7.2 M6.1 0.2L4.6 3.4 M5.5 2.1H10.2V9.6Q10.2 10.3 9.5 10.3H7.5 M6 4.8L7.4 5.8 M5.2 8.8L9.2 7.2" transform="translate(175.20,12.10)" fill="none" stroke="#333" stroke-width="1.0"/>
<path d="M2.5 0.2L0.3 5.5 M1.2 3.8V10.3 M7 0.2L2.6 5.1 M7 0.2L10.4 4.1 M4.6 6.1L3.2 10.3 M8 5.4V10.3" transform="translate(187.00,12.10)" fill="none" stroke="#333" stroke-width="1.0"/>
<text x="198.7" y="21.7" font-size="12" fill="#333">)</text>
<text x="213.5" y="21.7" font-size="12" fill="#333">(</text>
<path d="M1.8 0.6H10.3 M0.5 4.2H11.4 M4.3 4.2C4.3 7 3.3 9 0.6 10.2 M7.3 4.2V9.9H11.4V8.2" transform="translate(217.70,12.10)" fill="none" stroke="#333" stroke-width="1.0"/>
<line x1="231.3" y1="22.6" x2="234.6" y2="12.7" stroke="#333" stroke-width="1"/>
<path d="M0.5 2.7H2.3V8.6H0.5Z M3.2 1.7H10.6 M6.6 0.2V10.4H10.8V9.1 M3.6 3.6V7H10V3.6" transform="translate(236.00,12.10)" fill="none" stroke="#333" stroke-width="1.0"/>
<text x="249.3" y="21.7" font-size="12" fill="#333">)</text>
<text x="89.9" y="44.0" font-size="12" fill="#333" textLength="30.4" lengthAdjust="spacingAndGlyphs">SHFE</text>
<text x="119.9" y="44.0" font-size="12" fill="#333">(</text>
<path d="M0.5 1.4H2.8V9.1H0.5Z M0.5 5.4H2.8 M5.4 0.2L4.2 3 M4.7 2.3H11.2 M6.6 2.3V10.5 M6.6 5.4H10.7 M6.6 8.4H10.7" transform="translate(124.30,34.30)" fill="none" stroke="#333" stroke-width="1.0"/>
<path d="M0.5 3V7.5L3 6.5 M2.1 0.2V10.5 M5.2 0.2L4 3.5 M4.2 2.3H10.8 M9.4 2.3Q8.4 7.5 3.2 10.5 M5 5Q7 8.5 10.8 10.5" transform="translate(136.90,34.30)" fill="none" stroke="#333" stroke-width="1.0"/>
<text x="148.1" y="44.0" font-size="12" fill="#333">)</text>
<path d="M2.5 0.2L0.3 5.5 M1.2 3.8V10.3 M7 0.2L2.6 5.1 M7 0.2L10.4 4.1 M4.6 6.1L3.2 10.3 M8 5.4V10.3" transform="translate(152.60,34.30)" fill="none" stroke="#333" stroke-width="1.0"/>
<path d="M0.3 2.6H3.5 M1.8 0.2V10.5 M1.8 3.2L0.2 7.6 M2.2 4.6L3.6 6.2 M6.5 0.2L4.2 3 M5.6 1.6H9.5Q8.3 4.3 4.6 5.5 M6 3Q8 5 11 5.5 M5.1 6.5H9.8V9.3H5.1Z" transform="translate(164.00,34.30)" fill="none" stroke="#333" stroke-width="1.0"/>
<text x="186.0" y="44.0" font-size="12" fill="#333">(</text>
<path d="M1.8 0.6H10.3 M0.5 4.2H11.4 M4.3 4.2C4.3 7 3.3 9 0.6 10.2 M7.3 4.2V9.9H11.4V8.2" transform="translate(191.00,34.30)" fill="none" stroke="#333" stroke-width="1.0"/>
<line x1="203.9" y1="45.0" x2="207.0" y2="34.8" stroke="#333" stroke-width="1"/>
<path d="M0.5 2.7H2.3V8.6H0.5Z M3.2 1.7H10.6 M6.6 0.2V10.4H10.8V9.1 M3.6 3.6V7H10V3.6" transform="translate(209.20,34.30)" fill="none" stroke="#333" stroke-width="1.0"/>
<text x="221.1" y="44.0" font-size="12" fill="#333">)</text>
<text x="90.4" y="66.5" font-size="12" fill="#333" textLength="25.4" lengthAdjust="spacingAndGlyphs">LME</text>
<text x="115.1" y="66.5" font-size="12" fill="#333">(</text>
<path d="M0.5 1.4H2.8V9.1H0.5Z M0.5 5.4H2.8 M5.4 0.2L4.2 3 M4.7 2.3H11.2 M6.6 2.3V10.5 M6.6 5.4H10.7 M6.6 8.4H10.7" transform="translate(119.60,57.00)" fill="none" stroke="#333" stroke-width="1.0"/>
<path d="M0.5 3V7.5L3 6.5 M2.1 0.2V10.5 M5.2 0.2L4 3.5 M4.2 2.3H10.8 M9.4 2.3Q8.4 7.5 3.2 10.5 M5 5Q7 8.5 10.8 10.5" transform="translate(132.00,57.00)" fill="none" stroke="#333" stroke-width="1.0"/>
<text x="143.1" y="66.5" font-size="12" fill="#333">)</text>
<path d="M2.5 0.2L0.3 5.5 M1.2 3.8V10.3 M7 0.2L2.6 5.1 M7 0.2L10.4 4.1 M4.6 6.1L3.2 10.3 M8 5.4V10.3" transform="translate(147.20,57.00)" fill="none" stroke="#333" stroke-width="1.0"/>
<path d="M0.3 2.6H3.5 M1.8 0.2V10.5 M1.8 3.2L0.2 7.6 M2.2 4.6L3.6 6.2 M6.5 0.2L4.2 3 M5.6 1.6H9.5Q8.3 4.3 4.6 5.5 M6 3Q8 5 11 5.5 M5.1 6.5H9.8V9.3H5.1Z" transform="translate(159.00,57.00)" fill="none" stroke="#333" stroke-width="1.0"/>
<text x="181.2" y="66.5" font-size="12" fill="#333">(</text>
<path d="M3 0.2L3.9 1.3 M7.7 0.2L6.8 1.3 M1.5 2.3H9.3 M2.2 4.3H8.6 M0.8 6.3H10 M5.3 2.3V6.3 M0.3 8.1H10.6 M5.3 6.3Q5 9.3 0.8 10.6 M5.7 8.3Q7.3 10 10.7 10.6" transform="translate(194.30,57.00)" fill="none" stroke="#333" stroke-width="1.0"/>
<path d="M1.8 0.6H10.3 M0.5 4.2H11.4 M4.3 4.2C4.3 7 3.3 9 0.6 10.2 M7.3 4.2V9.9H11.4V8.2" transform="translate(206.30,57.00)" fill="none" stroke="#333" stroke-width="1.0"/>
<line x1="217.6" y1="68.0" x2="221.3" y2="58.0" stroke="#333" stroke-width="1"/>
<path d="M0.5 2.7H2.3V8.6H0.5Z M3.2 1.7H10.6 M6.6 0.2V10.4H10.8V9.1 M3.6 3.6V7H10V3.6" transform="translate(223.00,57.00)" fill="none" stroke="#333" stroke-width="1.0"/>
<text x="235.7" y="66.5" font-size="12" fill="#333">)</text>
<line x1="-1.0" y1="70.8" x2="2.0" y2="60.8" stroke="#333" stroke-width="1"/>
<path d="M0.5 2.7H2.3V8.6H0.5Z M3.2 1.7H10.6 M6.6 0.2V10.4H10.8V9.1 M3.6 3.6V7H10V3.6" transform="translate(3.00,60.20)" fill="none" stroke="#333" stroke-width="1.0"/>
<path d="M3 0.2L3.9 1.3 M7.7 0.2L6.8 1.3 M1.5 2.3H9.3 M2.2 4.3H8.6 M0.8 6.3H10 M5.3 2.3V6.3 M0.3 8.1H10.6 M5.3 6.3Q5 9.3 0.8 10.6 M5.7 8.3Q7.3 10 10.7 10.6" transform="translate(575.70,60.10)" fill="none" stroke="#333" stroke-width="1.0"/>
<path d="M1.8 0.6H10.3 M0.5 4.2H11.4 M4.3 4.2C4.3 7 3.3 9 0.6 10.2 M7.3 4.2V9.9H11.4V8.2" transform="translate(587.80,60.50)" fill="none" stroke="#333" stroke-width="1.0"/>
<line x1="599.8" y1="70.8" x2="603.0" y2="60.8" stroke="#333" stroke-width="1"/>
<polyline points="583.3,19.7 586.3,19.7 588.4,13.6 591.3,23.1 593.3,17.6 594.6,20 596.8,20.3" fill="none" stroke="#3b4c7a" stroke-width="1.3" stroke-linejoin="round"/>
<line x1="583" y1="26.4" x2="596.8" y2="26.4" stroke="#3b4c7a" stroke-width="1.3"/>
</svg>
</body></html>
